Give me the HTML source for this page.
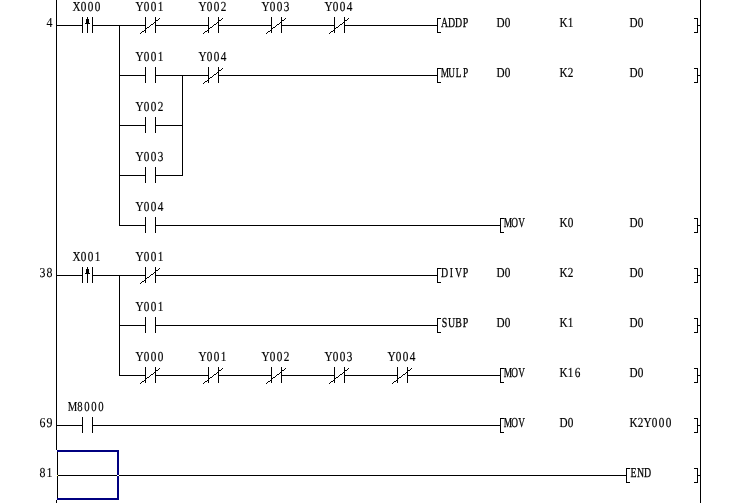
<!DOCTYPE html>
<html><head><meta charset="utf-8"><title>Ladder</title>
<style>
html,body{margin:0;padding:0;background:#fff;overflow:hidden}
svg{display:block}
rect{shape-rendering:crispEdges}
.s{stroke:#000;stroke-width:1;fill:none;shape-rendering:crispEdges}
text{font-family:"Liberation Serif",serif;font-size:13.7px;fill:#000;stroke:#000;stroke-width:0.2px;text-rendering:geometricPrecision;text-anchor:middle}
.a{stroke-width:0.3px}
.n{stroke-width:0.12px}
</style></head><body>
<svg width="750" height="503" viewBox="0 0 750 503">
<rect x="0" y="0" width="750" height="503" fill="#fff"/>
<g>
<rect x="56" y="0" width="1" height="450"/>
<rect x="56" y="500" width="1" height="3"/>
<rect x="700" y="0" width="1" height="503"/>
<rect x="56" y="25" width="27" height="1"/>
<rect x="92" y="25" width="54" height="1"/>
<rect x="155" y="25" width="54" height="1"/>
<rect x="218" y="25" width="54" height="1"/>
<rect x="281" y="25" width="54" height="1"/>
<rect x="344" y="25" width="94" height="1"/>
<rect x="82" y="17" width="1" height="16"/>
<rect x="92" y="17" width="1" height="16"/>
<rect x="87" y="17" width="1" height="16"/>
<rect x="86" y="19" width="3" height="4"/>
<rect x="85" y="23" width="5" height="1"/>
<rect x="145" y="17" width="1" height="16"/>
<rect x="155" y="17" width="1" height="16"/>
<rect x="140" y="33" width="1" height="1"/>
<rect x="141" y="32" width="1" height="1"/>
<rect x="142" y="31" width="2" height="1"/>
<rect x="144" y="30" width="1" height="1"/>
<rect x="145" y="29" width="1" height="1"/>
<rect x="146" y="28" width="1" height="1"/>
<rect x="147" y="27" width="2" height="1"/>
<rect x="149" y="26" width="1" height="1"/>
<rect x="150" y="25" width="1" height="1"/>
<rect x="151" y="24" width="2" height="1"/>
<rect x="153" y="23" width="1" height="1"/>
<rect x="154" y="22" width="1" height="1"/>
<rect x="155" y="21" width="1" height="1"/>
<rect x="156" y="20" width="2" height="1"/>
<rect x="158" y="19" width="1" height="1"/>
<rect x="159" y="18" width="1" height="1"/>
<rect x="208" y="17" width="1" height="16"/>
<rect x="218" y="17" width="1" height="16"/>
<rect x="203" y="33" width="1" height="1"/>
<rect x="204" y="32" width="1" height="1"/>
<rect x="205" y="31" width="2" height="1"/>
<rect x="207" y="30" width="1" height="1"/>
<rect x="208" y="29" width="1" height="1"/>
<rect x="209" y="28" width="1" height="1"/>
<rect x="210" y="27" width="2" height="1"/>
<rect x="212" y="26" width="1" height="1"/>
<rect x="213" y="25" width="1" height="1"/>
<rect x="214" y="24" width="2" height="1"/>
<rect x="216" y="23" width="1" height="1"/>
<rect x="217" y="22" width="1" height="1"/>
<rect x="218" y="21" width="1" height="1"/>
<rect x="219" y="20" width="2" height="1"/>
<rect x="221" y="19" width="1" height="1"/>
<rect x="222" y="18" width="1" height="1"/>
<rect x="271" y="17" width="1" height="16"/>
<rect x="281" y="17" width="1" height="16"/>
<rect x="266" y="33" width="1" height="1"/>
<rect x="267" y="32" width="1" height="1"/>
<rect x="268" y="31" width="2" height="1"/>
<rect x="270" y="30" width="1" height="1"/>
<rect x="271" y="29" width="1" height="1"/>
<rect x="272" y="28" width="1" height="1"/>
<rect x="273" y="27" width="2" height="1"/>
<rect x="275" y="26" width="1" height="1"/>
<rect x="276" y="25" width="1" height="1"/>
<rect x="277" y="24" width="2" height="1"/>
<rect x="279" y="23" width="1" height="1"/>
<rect x="280" y="22" width="1" height="1"/>
<rect x="281" y="21" width="1" height="1"/>
<rect x="282" y="20" width="2" height="1"/>
<rect x="284" y="19" width="1" height="1"/>
<rect x="285" y="18" width="1" height="1"/>
<rect x="334" y="17" width="1" height="16"/>
<rect x="344" y="17" width="1" height="16"/>
<rect x="329" y="33" width="1" height="1"/>
<rect x="330" y="32" width="1" height="1"/>
<rect x="331" y="31" width="2" height="1"/>
<rect x="333" y="30" width="1" height="1"/>
<rect x="334" y="29" width="1" height="1"/>
<rect x="335" y="28" width="1" height="1"/>
<rect x="336" y="27" width="2" height="1"/>
<rect x="338" y="26" width="1" height="1"/>
<rect x="339" y="25" width="1" height="1"/>
<rect x="340" y="24" width="2" height="1"/>
<rect x="342" y="23" width="1" height="1"/>
<rect x="343" y="22" width="1" height="1"/>
<rect x="344" y="21" width="1" height="1"/>
<rect x="345" y="20" width="2" height="1"/>
<rect x="347" y="19" width="1" height="1"/>
<rect x="348" y="18" width="1" height="1"/>
<rect x="437" y="18" width="1" height="15"/>
<rect x="437" y="18" width="4" height="1"/>
<rect x="437" y="32" width="4" height="1"/>
<rect x="697" y="18" width="1" height="15"/>
<rect x="694" y="18" width="4" height="1"/>
<rect x="694" y="32" width="4" height="1"/>
<rect x="697" y="25" width="4" height="1"/>
<rect x="119" y="25" width="1" height="201"/>
<rect x="119" y="75" width="27" height="1"/>
<rect x="155" y="75" width="54" height="1"/>
<rect x="218" y="75" width="220" height="1"/>
<rect x="145" y="67" width="1" height="16"/>
<rect x="155" y="67" width="1" height="16"/>
<rect x="208" y="67" width="1" height="16"/>
<rect x="218" y="67" width="1" height="16"/>
<rect x="203" y="83" width="1" height="1"/>
<rect x="204" y="82" width="1" height="1"/>
<rect x="205" y="81" width="2" height="1"/>
<rect x="207" y="80" width="1" height="1"/>
<rect x="208" y="79" width="1" height="1"/>
<rect x="209" y="78" width="1" height="1"/>
<rect x="210" y="77" width="2" height="1"/>
<rect x="212" y="76" width="1" height="1"/>
<rect x="213" y="75" width="1" height="1"/>
<rect x="214" y="74" width="2" height="1"/>
<rect x="216" y="73" width="1" height="1"/>
<rect x="217" y="72" width="1" height="1"/>
<rect x="218" y="71" width="1" height="1"/>
<rect x="219" y="70" width="2" height="1"/>
<rect x="221" y="69" width="1" height="1"/>
<rect x="222" y="68" width="1" height="1"/>
<rect x="437" y="68" width="1" height="15"/>
<rect x="437" y="68" width="4" height="1"/>
<rect x="437" y="82" width="4" height="1"/>
<rect x="697" y="68" width="1" height="15"/>
<rect x="694" y="68" width="4" height="1"/>
<rect x="694" y="82" width="4" height="1"/>
<rect x="697" y="75" width="4" height="1"/>
<rect x="182" y="75" width="1" height="101"/>
<rect x="119" y="125" width="27" height="1"/>
<rect x="155" y="125" width="28" height="1"/>
<rect x="145" y="117" width="1" height="16"/>
<rect x="155" y="117" width="1" height="16"/>
<rect x="119" y="175" width="27" height="1"/>
<rect x="155" y="175" width="28" height="1"/>
<rect x="145" y="167" width="1" height="16"/>
<rect x="155" y="167" width="1" height="16"/>
<rect x="119" y="225" width="27" height="1"/>
<rect x="155" y="225" width="346" height="1"/>
<rect x="145" y="217" width="1" height="16"/>
<rect x="155" y="217" width="1" height="16"/>
<rect x="500" y="218" width="1" height="15"/>
<rect x="500" y="218" width="4" height="1"/>
<rect x="500" y="232" width="4" height="1"/>
<rect x="697" y="218" width="1" height="15"/>
<rect x="694" y="218" width="4" height="1"/>
<rect x="694" y="232" width="4" height="1"/>
<rect x="697" y="225" width="4" height="1"/>
<rect x="56" y="275" width="27" height="1"/>
<rect x="92" y="275" width="54" height="1"/>
<rect x="155" y="275" width="283" height="1"/>
<rect x="82" y="267" width="1" height="16"/>
<rect x="92" y="267" width="1" height="16"/>
<rect x="87" y="267" width="1" height="16"/>
<rect x="86" y="269" width="3" height="4"/>
<rect x="85" y="273" width="5" height="1"/>
<rect x="145" y="267" width="1" height="16"/>
<rect x="155" y="267" width="1" height="16"/>
<rect x="140" y="283" width="1" height="1"/>
<rect x="141" y="282" width="1" height="1"/>
<rect x="142" y="281" width="2" height="1"/>
<rect x="144" y="280" width="1" height="1"/>
<rect x="145" y="279" width="1" height="1"/>
<rect x="146" y="278" width="1" height="1"/>
<rect x="147" y="277" width="2" height="1"/>
<rect x="149" y="276" width="1" height="1"/>
<rect x="150" y="275" width="1" height="1"/>
<rect x="151" y="274" width="2" height="1"/>
<rect x="153" y="273" width="1" height="1"/>
<rect x="154" y="272" width="1" height="1"/>
<rect x="155" y="271" width="1" height="1"/>
<rect x="156" y="270" width="2" height="1"/>
<rect x="158" y="269" width="1" height="1"/>
<rect x="159" y="268" width="1" height="1"/>
<rect x="437" y="268" width="1" height="15"/>
<rect x="437" y="268" width="4" height="1"/>
<rect x="437" y="282" width="4" height="1"/>
<rect x="697" y="268" width="1" height="15"/>
<rect x="694" y="268" width="4" height="1"/>
<rect x="694" y="282" width="4" height="1"/>
<rect x="697" y="275" width="4" height="1"/>
<rect x="119" y="275" width="1" height="101"/>
<rect x="119" y="325" width="27" height="1"/>
<rect x="155" y="325" width="283" height="1"/>
<rect x="145" y="317" width="1" height="16"/>
<rect x="155" y="317" width="1" height="16"/>
<rect x="437" y="318" width="1" height="15"/>
<rect x="437" y="318" width="4" height="1"/>
<rect x="437" y="332" width="4" height="1"/>
<rect x="697" y="318" width="1" height="15"/>
<rect x="694" y="318" width="4" height="1"/>
<rect x="694" y="332" width="4" height="1"/>
<rect x="697" y="325" width="4" height="1"/>
<rect x="119" y="375" width="27" height="1"/>
<rect x="155" y="375" width="54" height="1"/>
<rect x="218" y="375" width="54" height="1"/>
<rect x="281" y="375" width="54" height="1"/>
<rect x="344" y="375" width="54" height="1"/>
<rect x="407" y="375" width="94" height="1"/>
<rect x="145" y="367" width="1" height="16"/>
<rect x="155" y="367" width="1" height="16"/>
<rect x="140" y="383" width="1" height="1"/>
<rect x="141" y="382" width="1" height="1"/>
<rect x="142" y="381" width="2" height="1"/>
<rect x="144" y="380" width="1" height="1"/>
<rect x="145" y="379" width="1" height="1"/>
<rect x="146" y="378" width="1" height="1"/>
<rect x="147" y="377" width="2" height="1"/>
<rect x="149" y="376" width="1" height="1"/>
<rect x="150" y="375" width="1" height="1"/>
<rect x="151" y="374" width="2" height="1"/>
<rect x="153" y="373" width="1" height="1"/>
<rect x="154" y="372" width="1" height="1"/>
<rect x="155" y="371" width="1" height="1"/>
<rect x="156" y="370" width="2" height="1"/>
<rect x="158" y="369" width="1" height="1"/>
<rect x="159" y="368" width="1" height="1"/>
<rect x="208" y="367" width="1" height="16"/>
<rect x="218" y="367" width="1" height="16"/>
<rect x="203" y="383" width="1" height="1"/>
<rect x="204" y="382" width="1" height="1"/>
<rect x="205" y="381" width="2" height="1"/>
<rect x="207" y="380" width="1" height="1"/>
<rect x="208" y="379" width="1" height="1"/>
<rect x="209" y="378" width="1" height="1"/>
<rect x="210" y="377" width="2" height="1"/>
<rect x="212" y="376" width="1" height="1"/>
<rect x="213" y="375" width="1" height="1"/>
<rect x="214" y="374" width="2" height="1"/>
<rect x="216" y="373" width="1" height="1"/>
<rect x="217" y="372" width="1" height="1"/>
<rect x="218" y="371" width="1" height="1"/>
<rect x="219" y="370" width="2" height="1"/>
<rect x="221" y="369" width="1" height="1"/>
<rect x="222" y="368" width="1" height="1"/>
<rect x="271" y="367" width="1" height="16"/>
<rect x="281" y="367" width="1" height="16"/>
<rect x="266" y="383" width="1" height="1"/>
<rect x="267" y="382" width="1" height="1"/>
<rect x="268" y="381" width="2" height="1"/>
<rect x="270" y="380" width="1" height="1"/>
<rect x="271" y="379" width="1" height="1"/>
<rect x="272" y="378" width="1" height="1"/>
<rect x="273" y="377" width="2" height="1"/>
<rect x="275" y="376" width="1" height="1"/>
<rect x="276" y="375" width="1" height="1"/>
<rect x="277" y="374" width="2" height="1"/>
<rect x="279" y="373" width="1" height="1"/>
<rect x="280" y="372" width="1" height="1"/>
<rect x="281" y="371" width="1" height="1"/>
<rect x="282" y="370" width="2" height="1"/>
<rect x="284" y="369" width="1" height="1"/>
<rect x="285" y="368" width="1" height="1"/>
<rect x="334" y="367" width="1" height="16"/>
<rect x="344" y="367" width="1" height="16"/>
<rect x="329" y="383" width="1" height="1"/>
<rect x="330" y="382" width="1" height="1"/>
<rect x="331" y="381" width="2" height="1"/>
<rect x="333" y="380" width="1" height="1"/>
<rect x="334" y="379" width="1" height="1"/>
<rect x="335" y="378" width="1" height="1"/>
<rect x="336" y="377" width="2" height="1"/>
<rect x="338" y="376" width="1" height="1"/>
<rect x="339" y="375" width="1" height="1"/>
<rect x="340" y="374" width="2" height="1"/>
<rect x="342" y="373" width="1" height="1"/>
<rect x="343" y="372" width="1" height="1"/>
<rect x="344" y="371" width="1" height="1"/>
<rect x="345" y="370" width="2" height="1"/>
<rect x="347" y="369" width="1" height="1"/>
<rect x="348" y="368" width="1" height="1"/>
<rect x="397" y="367" width="1" height="16"/>
<rect x="407" y="367" width="1" height="16"/>
<rect x="392" y="383" width="1" height="1"/>
<rect x="393" y="382" width="1" height="1"/>
<rect x="394" y="381" width="2" height="1"/>
<rect x="396" y="380" width="1" height="1"/>
<rect x="397" y="379" width="1" height="1"/>
<rect x="398" y="378" width="1" height="1"/>
<rect x="399" y="377" width="2" height="1"/>
<rect x="401" y="376" width="1" height="1"/>
<rect x="402" y="375" width="1" height="1"/>
<rect x="403" y="374" width="2" height="1"/>
<rect x="405" y="373" width="1" height="1"/>
<rect x="406" y="372" width="1" height="1"/>
<rect x="407" y="371" width="1" height="1"/>
<rect x="408" y="370" width="2" height="1"/>
<rect x="410" y="369" width="1" height="1"/>
<rect x="411" y="368" width="1" height="1"/>
<rect x="500" y="368" width="1" height="15"/>
<rect x="500" y="368" width="4" height="1"/>
<rect x="500" y="382" width="4" height="1"/>
<rect x="697" y="368" width="1" height="15"/>
<rect x="694" y="368" width="4" height="1"/>
<rect x="694" y="382" width="4" height="1"/>
<rect x="697" y="375" width="4" height="1"/>
<rect x="56" y="425" width="27" height="1"/>
<rect x="92" y="425" width="409" height="1"/>
<rect x="82" y="417" width="1" height="16"/>
<rect x="92" y="417" width="1" height="16"/>
<rect x="500" y="418" width="1" height="15"/>
<rect x="500" y="418" width="4" height="1"/>
<rect x="500" y="432" width="4" height="1"/>
<rect x="697" y="418" width="1" height="15"/>
<rect x="694" y="418" width="4" height="1"/>
<rect x="694" y="432" width="4" height="1"/>
<rect x="697" y="425" width="4" height="1"/>
<rect x="58" y="475" width="569" height="1"/>
<rect x="626" y="468" width="1" height="15"/>
<rect x="626" y="468" width="4" height="1"/>
<rect x="626" y="482" width="4" height="1"/>
<rect x="697" y="468" width="1" height="15"/>
<rect x="694" y="468" width="4" height="1"/>
<rect x="694" y="482" width="4" height="1"/>
<rect x="697" y="475" width="4" height="1"/>
</g>
<rect x="57" y="450" width="62" height="2" fill="#000080"/>
<rect x="57" y="498" width="62" height="2" fill="#000080"/>
<rect x="117" y="452" width="2" height="23" fill="#000080"/>
<rect x="117" y="476" width="2" height="22" fill="#000080"/>
<rect x="117" y="475" width="2" height="1" fill="#fff"/>
<rect x="57" y="452" width="1" height="46" fill="#000"/>
<rect x="57" y="475" width="1" height="1" fill="#ffff80"/>
<g style="will-change:transform">
<text class="n" transform="translate(46 27) scale(0.87 1)" x="4.02">4</text>
<text class="m" transform="translate(73 11) scale(0.82 1)" x="4.27 12.8 21.34 29.88">X000</text>
<text class="m" transform="translate(136 11) scale(0.82 1)" x="4.27 12.8 21.34 29.88">Y001</text>
<text class="m" transform="translate(199 11) scale(0.82 1)" x="4.27 12.8 21.34 29.88">Y002</text>
<text class="m" transform="translate(262 11) scale(0.82 1)" x="4.27 12.8 21.34 29.88">Y003</text>
<text class="m" transform="translate(325 11) scale(0.82 1)" x="4.27 12.8 21.34 29.88">Y004</text>
<text class="a" transform="translate(441 27) scale(0.72 1)" x="4.86 14.58 24.31 34.03">ADDP</text>
<text class="m" transform="translate(497 27) scale(0.82 1)" x="4.27 12.8">D0</text>
<text class="m" transform="translate(560 27) scale(0.82 1)" x="4.27 12.8">K1</text>
<text class="m" transform="translate(630 27) scale(0.82 1)" x="4.27 12.8">D0</text>
<text class="m" transform="translate(136 61) scale(0.82 1)" x="4.27 12.8 21.34 29.88">Y001</text>
<text class="m" transform="translate(199 61) scale(0.82 1)" x="4.27 12.8 21.34 29.88">Y004</text>
<text class="a" transform="translate(441 77) scale(0.68 1)" x="5.74 15.44 25.74 36.03">MULP</text>
<text class="m" transform="translate(497 77) scale(0.82 1)" x="4.27 12.8">D0</text>
<text class="m" transform="translate(560 77) scale(0.82 1)" x="4.27 12.8">K2</text>
<text class="m" transform="translate(630 77) scale(0.82 1)" x="4.27 12.8">D0</text>
<text class="m" transform="translate(136 111) scale(0.82 1)" x="4.27 12.8 21.34 29.88">Y002</text>
<text class="m" transform="translate(136 161) scale(0.82 1)" x="4.27 12.8 21.34 29.88">Y003</text>
<text class="m" transform="translate(136 211) scale(0.82 1)" x="4.27 12.8 21.34 29.88">Y004</text>
<text class="a" transform="translate(504 227) scale(0.68 1)" x="5.74 15.44 25.74">MOV</text>
<text class="m" transform="translate(560 227) scale(0.82 1)" x="4.27 12.8">K0</text>
<text class="m" transform="translate(630 227) scale(0.82 1)" x="4.27 12.8">D0</text>
<text class="n" transform="translate(39 277) scale(0.87 1)" x="4.02 12.07">38</text>
<text class="m" transform="translate(73 261) scale(0.82 1)" x="4.27 12.8 21.34 29.88">X001</text>
<text class="m" transform="translate(136 261) scale(0.82 1)" x="4.27 12.8 21.34 29.88">Y001</text>
<text class="a" transform="translate(441 277) scale(0.72 1)" x="4.86 14.58 24.31 34.03">DIVP</text>
<text class="m" transform="translate(497 277) scale(0.82 1)" x="4.27 12.8">D0</text>
<text class="m" transform="translate(560 277) scale(0.82 1)" x="4.27 12.8">K2</text>
<text class="m" transform="translate(630 277) scale(0.82 1)" x="4.27 12.8">D0</text>
<text class="m" transform="translate(136 311) scale(0.82 1)" x="4.27 12.8 21.34 29.88">Y001</text>
<text class="a" transform="translate(441 327) scale(0.72 1)" x="4.86 14.58 24.31 34.03">SUBP</text>
<text class="m" transform="translate(497 327) scale(0.82 1)" x="4.27 12.8">D0</text>
<text class="m" transform="translate(560 327) scale(0.82 1)" x="4.27 12.8">K1</text>
<text class="m" transform="translate(630 327) scale(0.82 1)" x="4.27 12.8">D0</text>
<text class="m" transform="translate(136 361) scale(0.82 1)" x="4.27 12.8 21.34 29.88">Y000</text>
<text class="m" transform="translate(199 361) scale(0.82 1)" x="4.27 12.8 21.34 29.88">Y001</text>
<text class="m" transform="translate(262 361) scale(0.82 1)" x="4.27 12.8 21.34 29.88">Y002</text>
<text class="m" transform="translate(325 361) scale(0.82 1)" x="4.27 12.8 21.34 29.88">Y003</text>
<text class="m" transform="translate(388 361) scale(0.82 1)" x="4.27 12.8 21.34 29.88">Y004</text>
<text class="a" transform="translate(504 377) scale(0.68 1)" x="5.74 15.44 25.74">MOV</text>
<text class="m" transform="translate(560 377) scale(0.82 1)" x="4.27 12.8 21.34">K16</text>
<text class="m" transform="translate(630 377) scale(0.82 1)" x="4.27 12.8">D0</text>
<text class="n" transform="translate(39 427) scale(0.87 1)" x="4.02 12.07">69</text>
<text class="m" transform="translate(69.5 411) scale(0.78 1)" x="3.85 13.46 22.44 31.41 40.38">M8000</text>
<text class="a" transform="translate(504 427) scale(0.68 1)" x="5.74 15.44 25.74">MOV</text>
<text class="m" transform="translate(560 427) scale(0.82 1)" x="4.27 12.8">D0</text>
<text class="m" transform="translate(630 427) scale(0.82 1)" x="4.27 12.8 21.34 29.88 38.41 46.95">K2Y000</text>
<text class="n" transform="translate(39 477) scale(0.87 1)" x="4.02 12.07">81</text>
<text class="a" transform="translate(630 477) scale(0.72 1)" x="4.86 14.58 24.31">END</text>
</g>
</svg>
</body></html>
